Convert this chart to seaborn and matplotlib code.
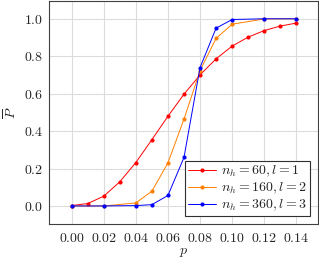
import matplotlib
matplotlib.use("Agg")
import matplotlib.pyplot as plt
import seaborn as sns
import pandas as pd

sns.set_theme(style="whitegrid")
plt.rcParams["font.family"] = ["cmr10", "DejaVu Serif"]
plt.rcParams["mathtext.fontset"] = "cm"
plt.rcParams["axes.formatter.use_mathtext"] = True

p_red = [0.00, 0.01, 0.02, 0.03, 0.04, 0.05, 0.06, 0.07, 0.08, 0.09, 0.10, 0.11, 0.12, 0.13, 0.14]
P_red = [0.002, 0.013, 0.052, 0.129, 0.232, 0.354, 0.479, 0.597, 0.700, 0.786, 0.854, 0.902, 0.937, 0.961, 0.977]

p_orange = [0.00, 0.02, 0.04, 0.05, 0.06, 0.07, 0.08, 0.09, 0.10, 0.12, 0.14]
P_orange = [0.0, 0.0, 0.016, 0.079, 0.230, 0.464, 0.723, 0.895, 0.971, 0.999, 1.0]

p_blue = [0.00, 0.02, 0.04, 0.05, 0.06, 0.07, 0.08, 0.09, 0.10, 0.12, 0.14]
P_blue = [0.0, 0.0, 0.002, 0.007, 0.056, 0.259, 0.739, 0.950, 0.996, 1.0, 1.0]

labels = [r"$n_h = 60, l = 1$", r"$n_h = 160, l = 2$", r"$n_h = 360, l = 3$"]
colors = ["#ff0000", "#ff8000", "#0000ff"]
xticks = [0.00, 0.02, 0.04, 0.06, 0.08, 0.10, 0.12, 0.14]
yticks = [0.0, 0.2, 0.4, 0.6, 0.8, 1.0]

fig = plt.figure(figsize=(3.19, 2.61), dpi=100)
ax = fig.add_axes([49 / 319, 1 - 224.3 / 261, (318 - 49) / 319, (224.3 - 0.8) / 261])

for (xs, ys), lab, col in zip([(p_red, P_red), (p_orange, P_orange), (p_blue, P_blue)], labels, colors):
    df = pd.DataFrame({"p": xs, "P": ys})
    sns.lineplot(data=df, x="p", y="P", ax=ax, color=col, label=lab, marker="o",
                 markersize=3, markeredgewidth=0, linewidth=0.7)

ax.set_xlim(-0.0141, 0.1535)
ax.set_ylim(-0.098, 1.096)
ax.set_xticks(xticks)
ax.set_yticks(yticks)
ax.set_xticklabels([f"${v:.2f}$" for v in xticks], fontsize=10)
ax.set_yticklabels([f"${v:.1f}$" for v in yticks], fontsize=10)
ax.tick_params(axis="x", length=0, pad=5.5)
ax.tick_params(axis="y", length=0, pad=4.3)
ax.grid(True, color="#dcdcdc", linewidth=0.8)
for s in ax.spines.values():
    s.set_color("#404040")
    s.set_linewidth(0.8)
ax.set_xlabel(r"$p$", fontsize=10)
ax.set_ylabel(r"$\overline{P}$", fontsize=10)
ax.xaxis.set_label_coords(0.5, -0.125)
ax.yaxis.set_label_coords(-0.141, 0.5)
ax.xaxis.label.set_va("center")
ax.yaxis.label.set_va("center")

leg = ax.legend(loc="lower right", fontsize=10, frameon=True, fancybox=False,
                edgecolor="#303030", framealpha=1, borderpad=0.2, labelspacing=0.12,
                handlelength=2.0, handletextpad=0.4, borderaxespad=0.6)
leg.get_frame().set_linewidth(0.8)

fig.savefig("out.png", dpi=100)
